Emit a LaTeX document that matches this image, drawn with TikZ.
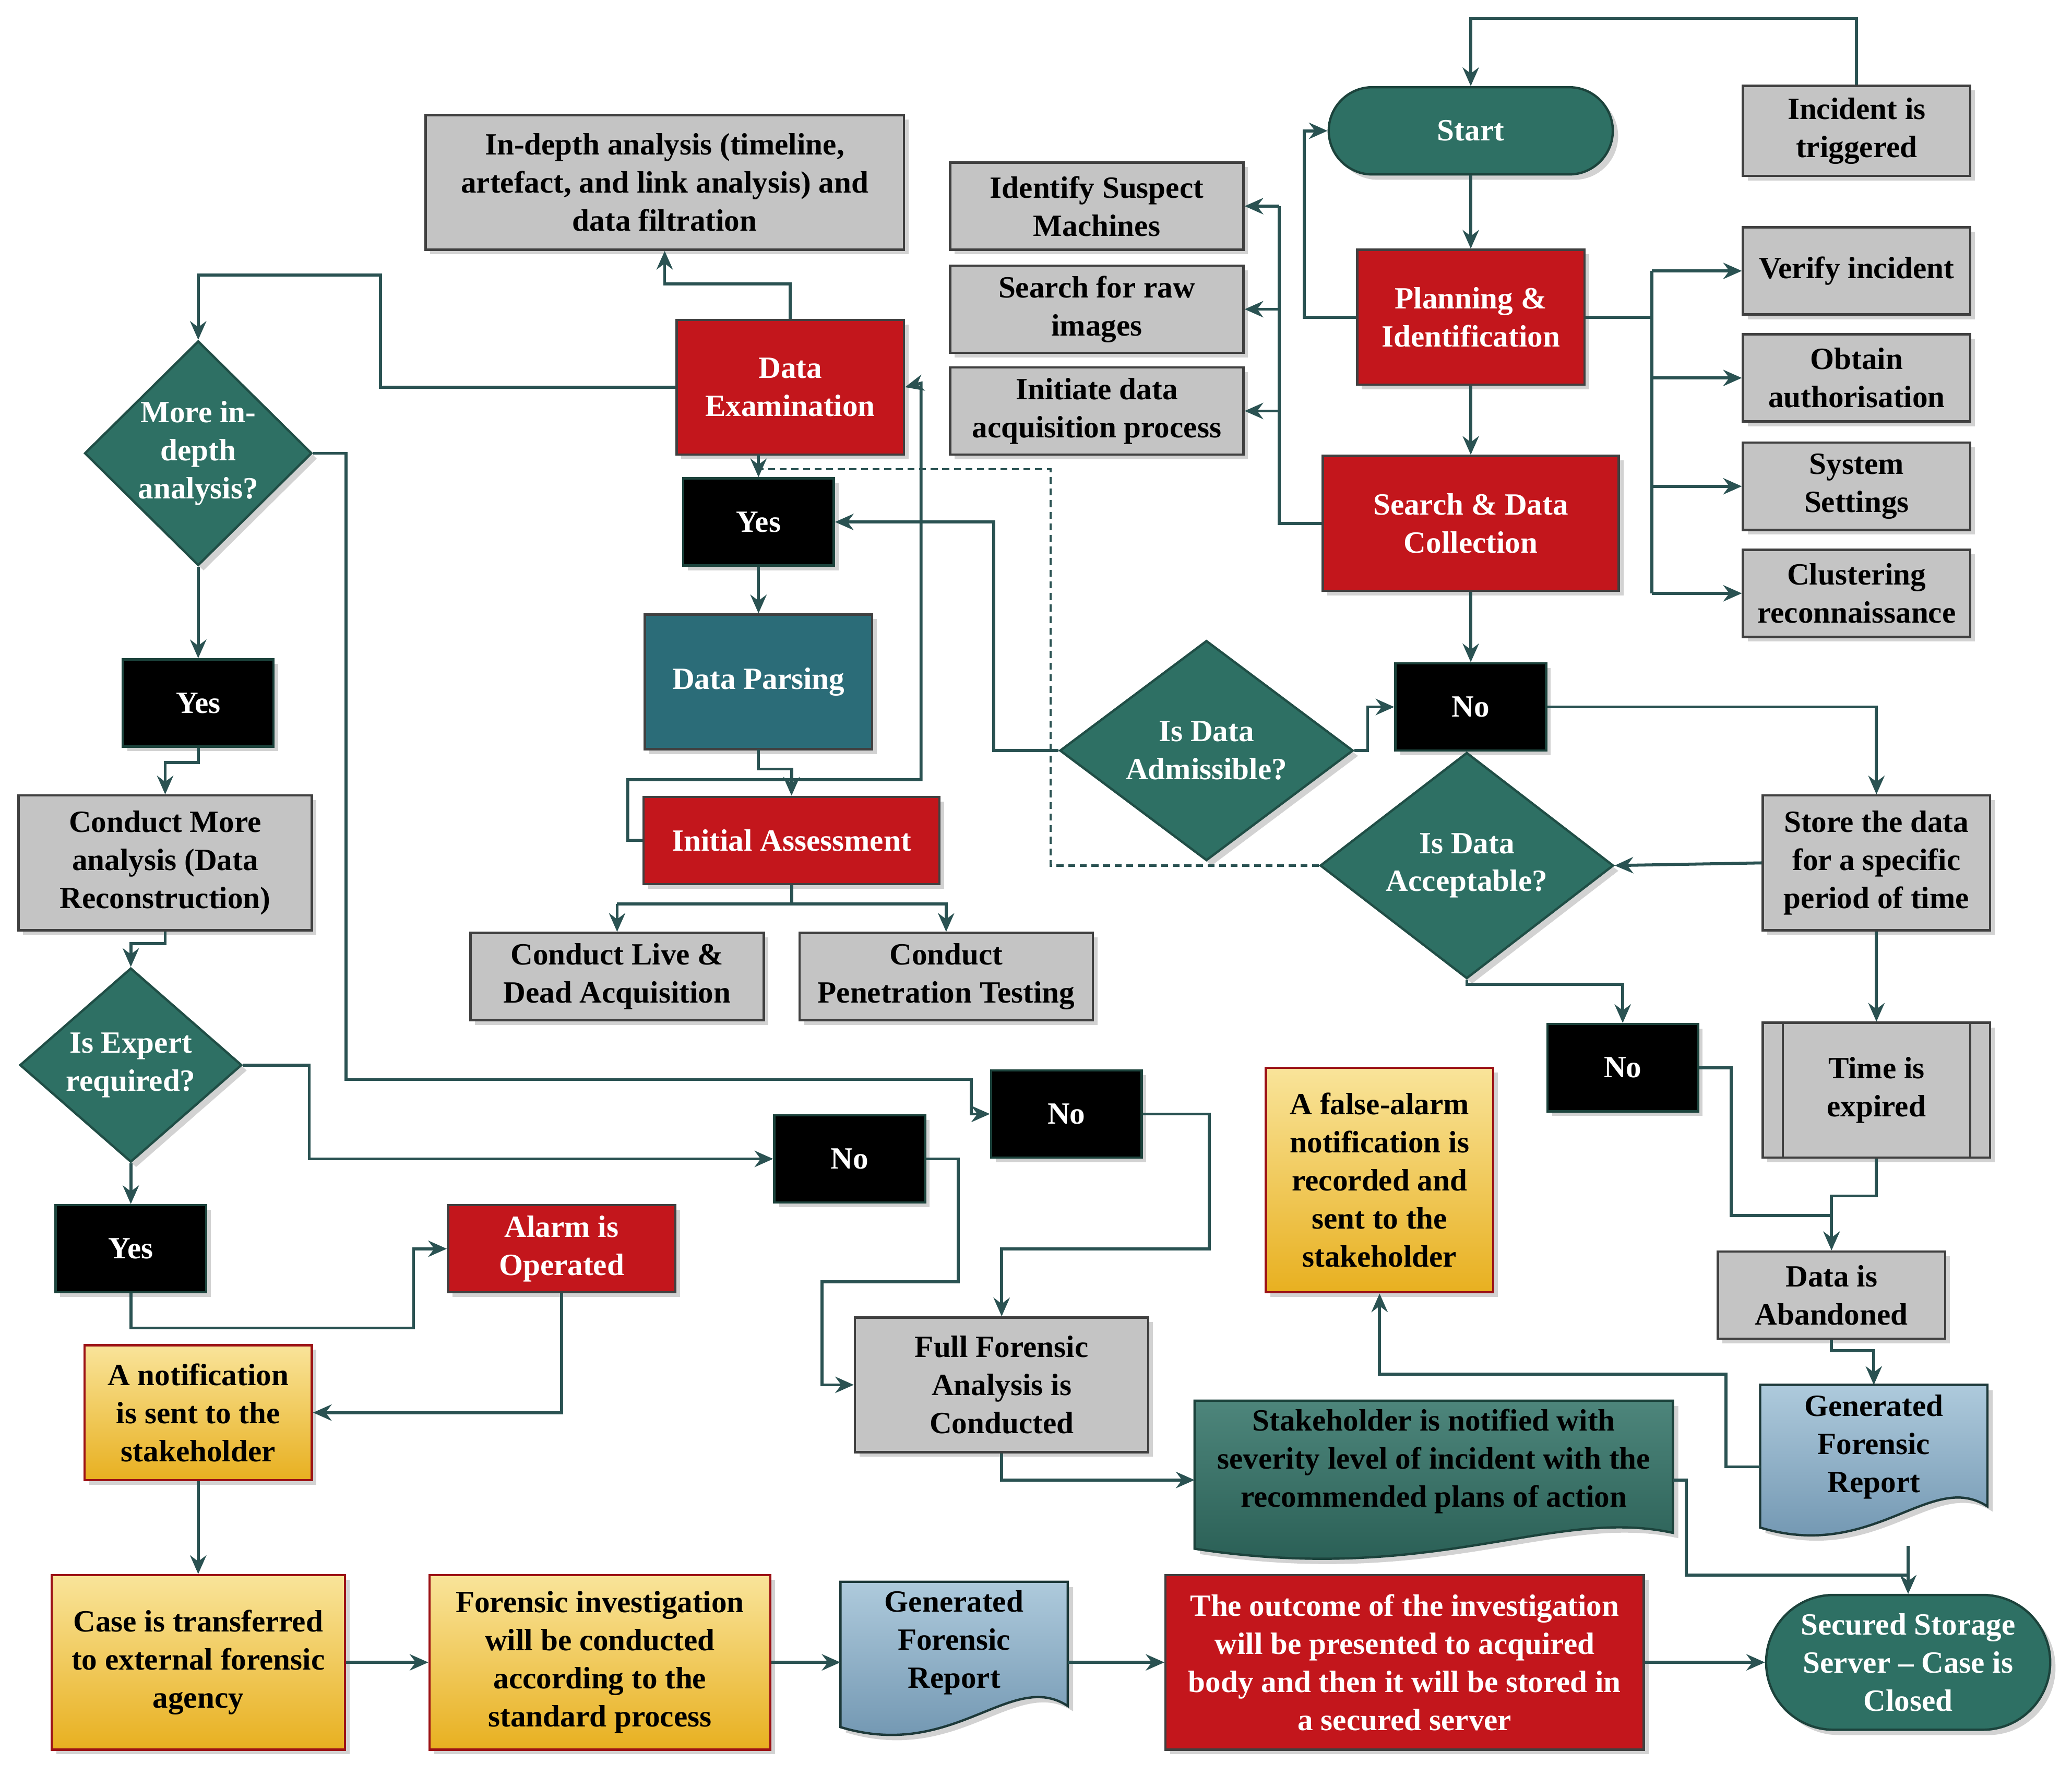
\documentclass[tikz,border=0pt]{standalone}
\usepackage{fontspec}
\setmainfont{Liberation Serif}
\usetikzlibrary{shapes.geometric,shapes.misc,arrows.meta,shadows}
\definecolor{ln}{HTML}{2A5252}
\definecolor{gr}{HTML}{C4C4C4}
\definecolor{rd}{HTML}{C3161C}
\definecolor{tg}{HTML}{2E7064}
\definecolor{tb}{HTML}{2B6C78}
\definecolor{yt}{HTML}{F9E49A}
\definecolor{yb}{HTML}{E8B020}
\definecolor{bt}{HTML}{AECADC}
\definecolor{bb}{HTML}{6A90AC}
\begin{document}
\begin{tikzpicture}[x=0.02cm,y=-0.02cm,
 every node/.style={font=\bfseries\fontsize{13.3}{16.4}\selectfont,align=center,inner sep=2pt},
 sz/.style 2 args={minimum width=#1*0.02cm,minimum height=#2*0.02cm},
 base/.style={draw=black!75,line width=1pt,drop shadow={opacity=0.35,shadow xshift=2pt,shadow yshift=-2pt}},
 gbox/.style={base,fill=gr},
 rbox/.style={base,fill=rd,text=white},
 kbox/.style={base,fill=black,text=white,draw=tg!60!black},
 ybox/.style={base,top color=yt,bottom color=yb,draw=rd!80!black},
 dia/.style={diamond,fill=tg,text=white,draw=tg!70!black,line width=1pt,inner sep=0pt,drop shadow={opacity=0.35}},
 term/.style={rounded rectangle,fill=tg,text=white,draw=tg!60!black,line width=1pt,drop shadow={opacity=0.35}},
 arr/.style={draw=ln,line width=1.3pt,-{Stealth[length=8pt,width=7pt]}},
 lnn/.style={draw=ln,line width=1.3pt},
]
\useasboundingbox[fill=white] (0,0) rectangle (1568,1343);
\newcommand\docshape[5]{% color, x, y, w, h
 \path[draw=ln!70!black,line width=1pt,top color=#1,bottom color=bb,drop shadow={opacity=0.35}]
 (#2-#4/2,#3-#5/2) -- (#2+#4/2,#3-#5/2) -- (#2+#4/2,#3+#5/2-12)
 .. controls (#2+#4/4,#3+#5/2-40) and (#2,#3+#5/2+30) .. (#2-#4/2,#3+#5/2+4) -- cycle;}
% nodes
\node[term,minimum width=222*0.02cm,minimum height=66*0.02cm] (start) at (1113,99) {Start};
\node[gbox,sz={172}{68}] (inc) at (1405,99) {Incident is\\triggered};
\node[gbox,sz={222}{66}] (ism) at (830,156) {Identify Suspect\\Machines};
\node[gbox,sz={222}{66}] (sri) at (830,234) {Search for raw\\images};
\node[gbox,sz={222}{66}] (ida) at (830,311) {Initiate data\\acquisition process};
\node[rbox,sz={172}{102}] (pi) at (1113,240) {Planning \&\\Identification};
\node[gbox,sz={172}{66}] (vi) at (1405,205) {Verify incident};
\node[gbox,sz={172}{66}] (oa) at (1405,286) {Obtain\\authorisation};
\node[gbox,sz={172}{66}] (ss) at (1405,368) {System\\Settings};
\node[gbox,sz={172}{66}] (cr) at (1405,449) {Clustering\\reconnaissance};
\node[rbox,sz={224}{102}] (sdc) at (1113,396) {Search \& Data\\Collection};
\node[gbox,sz={362}{102}] (ind) at (503,138) {In-depth analysis (timeline,\\artefact, and link analysis) and\\data filtration};
\node[rbox,sz={172}{102}] (de) at (598,293) {Data\\Examination};
\node[kbox,sz={114}{66}] (y1) at (574,395) {Yes};
\node[base,fill=tb,text=white,sz={172}{102}] (dp) at (574,516) {Data Parsing};
\node[rbox,sz={224}{66}] (ia) at (599,636) {Initial Assessment};
\node[gbox,sz={222}{66}] (cld) at (467,739) {Conduct Live \&\\Dead Acquisition};
\node[gbox,sz={222}{66}] (cpt) at (716,739) {Conduct\\Penetration Testing};
\node[dia,minimum width=222*0.02cm,minimum height=132*0.02cm] (adm) at (913,568) {Is Data\\Admissible?};
\node[kbox,sz={114}{66}] (n1) at (1113,535) {No};
\node[gbox,sz={172}{102}] (std) at (1420,653) {Store the data\\for a specific\\period of time};
\node[dia,minimum width=222*0.02cm,minimum height=132*0.02cm] (acc) at (1110,655) {Is Data\\Acceptable?};
\node[kbox,sz={114}{66}] (n2) at (1228,808) {No};
\node[gbox,sz={172}{102}] (tie) at (1420,825) {Time is\\expired};
\draw[black!75,line width=1pt] ([xshift=16*0.02cm]tie.north west) -- ([xshift=16*0.02cm]tie.south west) ([xshift=-16*0.02cm]tie.north east) -- ([xshift=-16*0.02cm]tie.south east);
\node[gbox,sz={172}{66}] (dab) at (1386,980) {Data is\\Abandoned};
\docshape{bt}{1418}{1100}{172}{104}
\node[sz={172}{80}] (gfr1) at (1418,1095) {Generated\\Forensic\\Report};
\node[ybox,sz={172}{170}] (fa) at (1044,893) {A false-alarm\\notification is\\recorded and\\sent to the\\stakeholder};
\node[dia,minimum width=172*0.02cm,minimum height=170*0.02cm] (mid) at (150,343) {More in-\\depth\\analysis?};
\node[kbox,sz={114}{66}] (y2) at (150,532) {Yes};
\node[gbox,sz={222}{102}] (cma) at (125,653) {Conduct More\\analysis (Data\\Reconstruction)};
\node[dia,minimum width=168*0.02cm,minimum height=134*0.02cm] (ier) at (99,806) {Is Expert\\required?};
\node[kbox,sz={114}{66}] (y3) at (99,945) {Yes};
\node[rbox,sz={172}{66}] (alm) at (425,945) {Alarm is\\Operated};
\node[kbox,sz={114}{66}] (n3) at (643,877) {No};
\node[kbox,sz={114}{66}] (n4) at (807,843) {No};
\node[ybox,sz={172}{102}] (nts) at (150,1069) {A notification\\is sent to the\\stakeholder};
\node[gbox,sz={222}{102}] (ffa) at (758,1048) {Full Forensic\\Analysis is\\Conducted};
\path[draw=tg!60!black,line width=1pt,top color=tg!85!white,bottom color=tg!80!black,drop shadow={opacity=0.35}]
 (904,1060) -- (1266,1060) -- (1266,1160) .. controls (1175,1140) and (1085,1200) .. (904,1172) -- cycle;
\node[text=black,sz={362}{90}] (stk) at (1085,1106) {Stakeholder is notified with\\severity level of incident with the\\recommended plans of action};
\node[ybox,sz={222}{132}] (cte) at (150,1258) {Case is transferred\\to external forensic\\agency};
\node[ybox,sz={258}{132}] (fiv) at (454,1258) {Forensic investigation\\will be conducted\\according to the\\standard process};
\docshape{bt}{722}{1250}{172}{106}
\node[sz={172}{80}] (gfr2) at (722,1243) {Generated\\Forensic\\Report};
\node[rbox,sz={362}{132}] (out) at (1063,1258) {The outcome of the investigation\\will be presented to acquired\\body and then it will be stored in\\a secured server};
\node[term,minimum width=222*0.02cm,minimum height=102*0.02cm] (ssc) at (1444,1258) {Secured Storage\\Server -- Case is\\Closed};
% edges
\draw[arr] (inc.north) |- (1113,14) -- (start.north);
\draw[arr] (start.south) -- (pi.north);
\draw[arr] (pi.west) -| (987,99) -- (start.west);
\draw[arr] (pi.south) -- (sdc.north);
\draw[lnn] (pi.east) -- (1250,240) (1250,205) -- (1250,449);
\foreach \t in {vi,oa,ss,cr} \draw[arr] (1250,0 |- \t.west) -- (\t.west);
\draw[lnn] (sdc.west) -| (968,156);
\foreach \t in {ism,sri,ida} \draw[arr] (968,0 |- \t.east) -- (\t.east);
\draw[arr] (sdc.south) -- (n1.north);
\draw[arr] (n1.east) -| (std.north);
\draw[arr] (std.west) -- (acc.east);
\draw[arr] (acc.south) |- (1228,745) -- (n2.north);
\draw[arr] (std.south) -- (tie.north);
\draw[arr] (tie.south) |- (1386,905) -- (dab.north);
\draw[arr] (n2.east) -| (1310,920) -| (dab.north);
\draw[arr] (dab.south) |- (1418,1022) -- (1418,1048);
\draw[arr] (1332,1110) -| (1306,1040) -| (fa.south);
\draw[arr] (1444,1170) -- (ssc.north);
\draw[arr] (1266,1120) -| (1276,1192) -| (ssc.north);
\draw[arr] (out.east) -- (ssc.west);
\draw[arr] (cte.east) -- (fiv.west);
\draw[arr] (fiv.east) -- (636,1258);
\draw[arr] (808,1258) -- (out.west);
\draw[arr] (nts.south) -- (cte.north);
\draw[arr] (alm.south) |- (nts.east);
\draw[arr] (y3.south) |- (313,1005) |- (alm.west);
\draw[arr] (ier.south) -- (y3.north);
\draw[arr] (ier.east) -| (234,877) -- (n3.west);
\draw[arr] (n3.east) -| (725,970) -| (622,1048) -- (ffa.west);
\draw[arr] (n4.east) -| (915,945) -| (ffa.north);
\draw[arr] (mid.east) -| (262,817) -| (735,843) -- (n4.west);
\draw[arr] (mid.south) -- (y2.north);
\draw[arr] (y2.south) |- (125,577) -- (cma.north);
\draw[arr] (cma.south) |- (99,714) -- (ier.north);
\draw[arr] (de.west) -| (288,208) -| (mid.north);
\draw[arr] (de.north) |- (503,215) -- (ind.south);
\draw[arr] (574,344) -- (y1.north);
\draw[arr] (y1.south) -- (dp.north);
\draw[arr] (574,567) |- (599,582) -- (ia.north);
\draw[arr] (ia.west) -| (475,590) -| (697,290) -- (de.east);
\draw[lnn] (ia.south) -- (599,684);
\draw[arr] (467,684) -- (716,684) -- (cpt.north);
\draw[arr] (467,684) -- (cld.north);
\draw[arr] (adm.west) -| (752,395) -- (y1.east);
\draw[arr] (adm.east) -| (1035,535) -- (n1.west);
\draw[ln,line width=1pt,densely dashed] (acc.west) -| (795,355) -| (574,344);
\draw[arr] (ffa.south) |- (904,1120);
\end{tikzpicture}
\end{document}
